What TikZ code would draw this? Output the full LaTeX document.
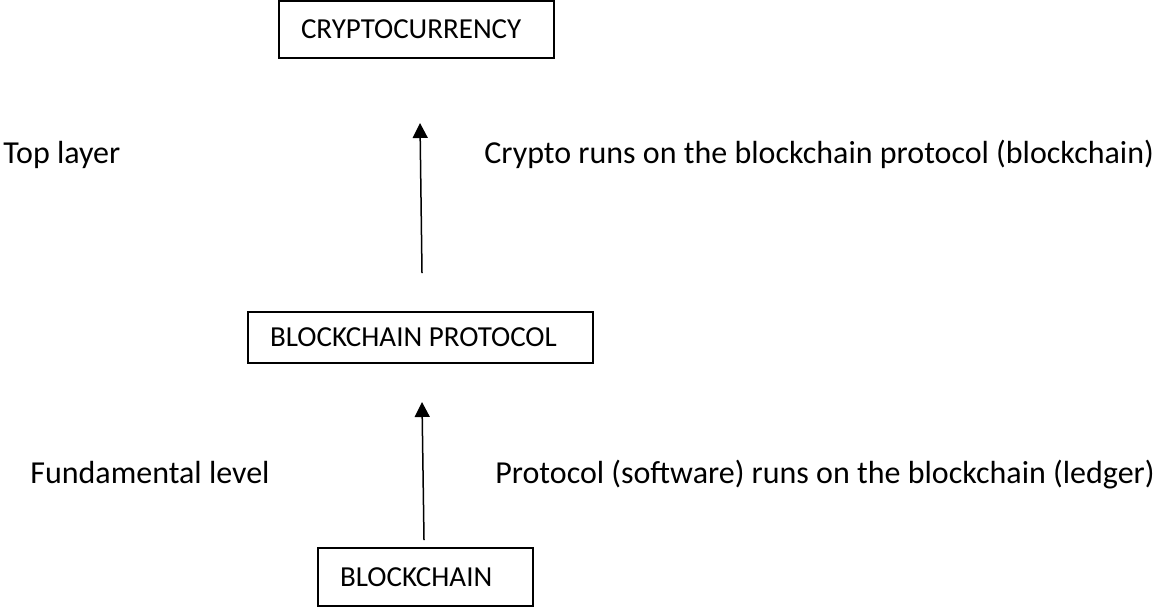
\documentclass[tikz,border=0pt]{standalone}
\usepackage{fontspec}
\setmainfont{Carlito}
\usepackage{tikz}
\usetikzlibrary{arrows.meta}

\begin{document}
\begin{tikzpicture}[x=0.5pt,y=-0.5pt,font=\fontsize{16}{19}\selectfont]
        \tikzstyle{arrow} = [line width=0.75pt,-{Triangle[width=7.5pt,length=7.5pt]}]
        \tikzstyle{layer} = [draw,line width=0.6pt,inner xsep=11pt,inner ysep=0pt,align=flush left,font=\fontsize{14.5}{17}\selectfont]
        \tikzstyle{note} = [anchor=base west,inner sep=0pt]
        \useasboundingbox (0,0) rectangle (1154,607);

        \node[layer,text width=115.5pt,minimum height=28.5pt] (crypto) at (416.5,29.5) {CRYPTOCURRENCY};
        \node[layer,text width=150.5pt,minimum height=25.5pt] (protocol) at (420.5,337.5) {BLOCKCHAIN PROTOCOL};
        \node[layer,text width=85.5pt,minimum height=29pt] (chain) at (425.5,577) {BLOCKCHAIN};

        \node[note] (top) at (3,163) {Top layer};
        \node[note] (topnote) at (484,163) {Crypto runs on the blockchain protocol (blockchain)};
        \node[note] (base) at (30,483) {Fundamental level};
        \node[note] (basenote) at (495,483) {Protocol (software) runs on the blockchain (ledger)};

        \coordinate (upfrom) at (422,273);
        \coordinate (upto) at (420,123);
        \coordinate (lowfrom) at (424,540);
        \coordinate (lowto) at (422,402);
        \draw [arrow] (upfrom) -- (upto);
        \draw [arrow] (lowfrom) -- (lowto);
    \end{tikzpicture}
\end{document}
